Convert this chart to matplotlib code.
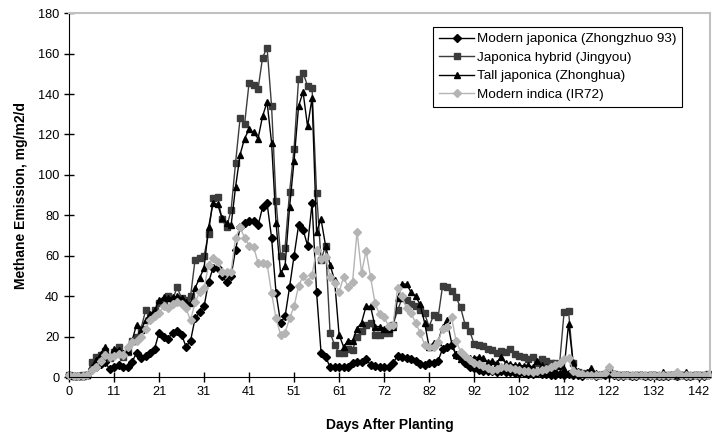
import matplotlib.pyplot as plt
import numpy as np

plt.rcParams['font.family'] = ['Liberation Sans', 'DejaVu Sans']

# tick labels on the category axis (every 10th sampling)
tick_days = [0, 11, 21, 31, 41, 51, 61, 72, 82, 92, 102, 112, 122, 132, 142]

# methane emission, mg/m2/d, one value per sampling
japonica = [1, 0.5, 0.5, 0.5, 1, 4, 5, 6.5, 7.5, 4,
            5, 6, 5, 5, 7.5, 12, 9.5, 10.5, 12, 14,
            22, 20, 19, 22, 23, 21, 15, 18, 29, 32,
            35, 47, 54, 54, 50, 47, 50, 63, 74, 76,
            77, 77, 75, 84, 86, 69, 41.5, 27, 30, 44.5,
            60, 75, 73, 65, 86, 42, 12, 10, 5, 5,
            5, 5, 5, 7, 7.5, 7.5, 9, 6, 5.5, 5,
            5, 5, 7, 10.5, 10, 9.5, 9, 8, 6.5, 6,
            7, 7, 8, 14, 15, 16, 11, 9.5, 7, 5,
            4.5, 3.5, 3, 3, 3, 2.5, 3, 2.5, 2.5, 2,
            2, 2, 1.5, 1.5, 2, 1.5, 1.5, 1, 1, 1.5,
            1, 1.5, 1, 1, 0.5, 1, 1, 0.5, 1, 1,
            1.5, 1, 0.5, 0.5, 1, 0.5, 0.5, 1, 0.5, 0.5,
            1, 0.5, 0.5, 0.5, 1, 0.5, 1, 0.5, 0.5, 1,
            0.5, 0.5, 1]
hybrid = [1, 0.5, 0.5, 1, 1, 7.5, 10, 11, 13, 9.5,
          12.5, 15, 10, 12.5, 18, 20, 24, 33, 29, 33,
          36.5, 37, 40, 38, 44.5, 39, 38, 40, 58, 59,
          60, 71, 88.5, 89, 78, 74, 82.5, 106, 128, 125,
          145.5, 144.5, 142.5, 158, 163, 134, 87, 60, 64, 91.5,
          113, 147.5, 150.5, 144, 143, 91, 58, 65, 22, 16,
          12, 12, 14, 13.5, 20, 23, 26, 27, 21, 21,
          22, 22, 26, 33, 39, 38, 36, 35, 33, 31.5,
          25, 30.5, 29.5, 45, 44.5, 42.5, 39.5, 34.5, 26, 23,
          16.5, 16, 15.5, 14, 13.5, 12, 13, 12.5, 14, 11.5,
          10.5, 10, 9, 10, 7, 9, 8, 7, 7, 6.5,
          32, 32.5, 7, 2.5, 2, 1.5, 1.5, 1, 1, 1.5,
          3, 1.5, 1, 1, 1, 0.5, 1, 1, 0.5, 1,
          1, 0.5, 0.5, 1, 1, 0.5, 1, 1, 0.5, 1,
          1, 1, 1.5]
tall = [1, 0.5, 0.5, 0.5, 1, 5, 8.5, 11.5, 15, 10.5,
        14, 13.5, 12, 13, 18, 26, 23.5, 28, 31, 33,
        38, 39.5, 39, 39.5, 40, 39, 37, 36.5, 44, 49,
        54, 74, 86, 85.5, 78.5, 76, 75, 94, 110, 118,
        122.5, 121, 118, 129, 136, 116, 76, 51.5, 55, 84,
        107, 134, 141, 124, 138, 72, 78, 65, 55.5, 48,
        21, 15, 18, 18, 24, 27, 35, 35, 25, 25,
        24, 24, 25, 39, 46, 46, 42, 40, 36, 27,
        15, 17, 17.5, 25, 28, 17, 11, 9, 8, 9.5,
        9.5, 10, 9.5, 7.5, 8, 7, 10, 7, 6.5, 6,
        6, 5.5, 6, 5, 8, 6, 5, 4, 3.5, 5.5,
        4, 26.5, 7.5, 3, 2, 2.5, 4.5, 2, 1.5, 2,
        3.5, 2, 1.5, 1.5, 1.5, 1, 1.5, 1, 1, 1.5,
        1, 1, 2.5, 1, 1, 1.5, 1, 2.5, 1, 1,
        1.5, 1, 1.5]
indica = [1, 0.5, 0.5, 0.5, 1, 3.5, 5, 8, 11, 10,
          10.5, 11.5, 11, 15, 17.5, 18, 20, 24, 28, 30,
          31.5, 35, 34, 36, 37, 36, 34, 28, 37, 42,
          44, 55.5, 59, 57, 52, 52, 52, 69, 74, 69,
          65, 64.5, 56.5, 56.5, 56, 41.5, 29, 21, 22, 29,
          35, 45, 50, 47, 50.5, 63, 58.5, 59.5, 49.5, 46.5,
          42, 49.5, 44.5, 47, 72, 51.5, 62.5, 49.5, 36.5, 31,
          29.5, 25.5, 26, 44, 40, 34, 31.5, 27, 22, 16,
          15, 15, 17.5, 24, 25, 29.5, 18, 12.5, 10.5, 8.5,
          7, 6.5, 5.5, 4.5, 3.5, 4, 5, 5, 4.5, 4,
          3.5, 3, 3, 2.5, 3, 3.5, 4, 5, 6, 7,
          9, 9.5, 3, 2, 1.5, 1, 1, 1, 1, 2,
          5, 1.5, 1, 1, 1, 1, 1, 1, 1, 1,
          1, 1, 1, 1, 1, 2.5, 1, 1, 1, 1,
          1, 1, 1]

x = np.arange(len(japonica))

fig, ax = plt.subplots(figsize=(7.12, 4.38), dpi=100)
fig.subplots_adjust(left=0.097, right=0.997, bottom=0.139, top=0.970)

ax.plot(x, japonica, color='black', lw=1, marker='D', ms=4,
        label='Modern japonica (Zhongzhuo 93)', clip_on=False)
ax.plot(x, hybrid, color='#3c3c3c', lw=1, marker='s', ms=4.8,
        label='Japonica hybrid (Jingyou)', clip_on=False)
ax.plot(x, tall, color='black', lw=1, marker='^', ms=4.8,
        label='Tall japonica (Zhonghua)', clip_on=False)
ax.plot(x, indica, color='#b4b4b4', lw=1, marker='D', ms=4,
        label='Modern indica (IR72)', clip_on=False)

ax.set_xlim(0, 142.4)
ax.set_ylim(0, 180)
ax.set_xticks(np.arange(0, 141, 10))
ax.set_xticklabels([str(d) for d in tick_days])
ax.set_yticks(np.arange(0, 181, 20))
ax.tick_params(direction='inout', length=7, width=1, labelsize=9.2, colors='black')
ax.tick_params(axis='x', pad=3)

# excel style plot area: dark axes, grey frame
ax.spines['top'].set_color('#c0c0c0')
ax.spines['right'].set_color('#c0c0c0')
ax.spines['top'].set_linewidth(1.5)
ax.spines['right'].set_linewidth(1.5)

ax.set_xlabel('Days After Planting', fontsize=10, fontweight='bold', labelpad=14)
ax.set_ylabel('Methane Emission, mg/m2/d', fontsize=10, fontweight='bold', labelpad=7)

leg = ax.legend(loc='upper left', bbox_to_anchor=(0.568, 0.962), borderaxespad=0,
                fontsize=9.7, fancybox=False, edgecolor='black', framealpha=1,
                handlelength=2.6, labelspacing=0.45, handletextpad=0.2, borderpad=0.45)
leg.get_frame().set_linewidth(0.8)

plt.savefig('out.png')
